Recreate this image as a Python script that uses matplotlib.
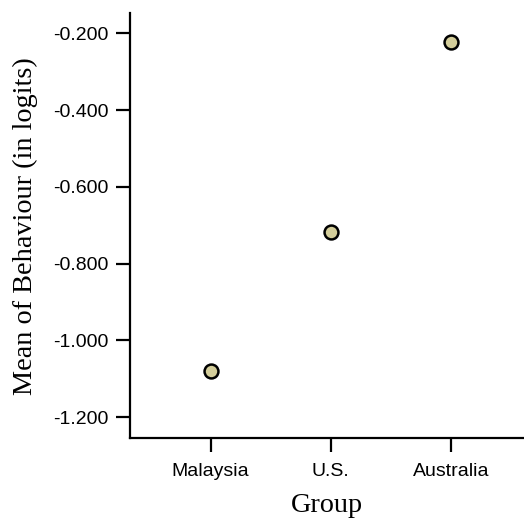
import matplotlib
matplotlib.use("Agg")
import matplotlib.pyplot as plt

groups = ["Malaysia", "U.S.", "Australia"]
means = [-1.079, -0.718, -0.223]
yticks = [-1.2, -1.0, -0.8, -0.6, -0.4, -0.2]
ytick_labels = ["-1.200", "-1.000", "-0.800", "-0.600", "-0.400", "-0.200"]

W, H = 524, 523
fig = plt.figure(figsize=(W / 100, H / 100), dpi=100)
ax = fig.add_axes([130 / W, 1 - 438.3 / H, 1 - 130 / W, (438.3 - 12.7) / H])

x = list(range(1, len(groups) + 1))
ax.plot(x, means, linestyle="none", marker="o", markersize=10,
        markerfacecolor="#d4ce9b", markeredgecolor="black", markeredgewidth=1.8,
        clip_on=False, zorder=3)

ax.set_xlim(0.329, 3.607)
ax.set_ylim(-1.255, -0.146)
ax.set_xticks(x)
ax.set_xticklabels(groups)
ax.set_yticks(yticks)
ax.set_yticklabels(ytick_labels)

for s in ["top", "right"]:
    ax.spines[s].set_visible(False)
for s in ["left", "bottom"]:
    ax.spines[s].set_linewidth(1.6)

ax.tick_params(axis="both", length=10, width=1.6, labelsize=14, colors="black")
ax.tick_params(axis="y", pad=5.5)
ax.tick_params(axis="x", pad=7.5)
for lab in ax.get_xticklabels() + ax.get_yticklabels():
    lab.set_fontfamily("Liberation Sans")

fig.text(25 / W, 1 - 226.5 / H, "Mean of Behaviour (in logits)", rotation=90,
         ha="center", va="center", fontsize=20.3, fontfamily="Liberation Serif")
fig.text(326.7 / W, 1 - 506 / H, "Group", ha="center", va="center",
         fontsize=20.3, fontfamily="Liberation Serif")

fig.savefig("out.png", dpi=100)
